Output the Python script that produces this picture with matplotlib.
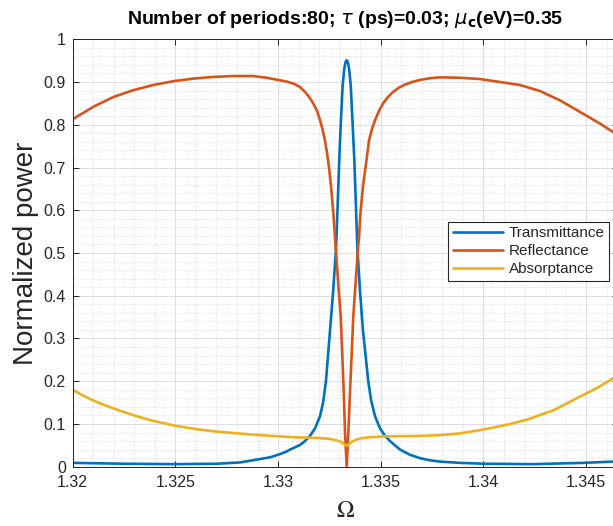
import matplotlib.pyplot as plt
from matplotlib.ticker import MultipleLocator, FixedLocator, FixedFormatter

# normalized frequency samples and spectra of the periodic stack
omega_t = [1.32000, 1.32250, 1.32498, 1.32700, 1.32815, 1.32912, 1.32961, 1.33000,
           1.33034, 1.33058, 1.33107, 1.33131, 1.33155, 1.33180, 1.33204, 1.33219,
           1.33233, 1.33243, 1.33253, 1.33268, 1.33282, 1.33290, 1.33298, 1.33304,
           1.33310, 1.33314, 1.33322, 1.33328, 1.33334, 1.33340, 1.33346, 1.33354,
           1.33358, 1.33364, 1.33371, 1.33379, 1.33386, 1.33399, 1.33413, 1.33426,
           1.33439, 1.33453, 1.33472, 1.33496, 1.33521, 1.33545, 1.33594, 1.33642,
           1.33691, 1.33740, 1.33788, 1.33886, 1.34000, 1.34241, 1.34485, 1.34631]
transmittance = [0.009, 0.007, 0.006, 0.007, 0.010, 0.018, 0.022, 0.028,
                 0.034, 0.040, 0.051, 0.060, 0.072, 0.090, 0.118, 0.150,
                 0.200, 0.260, 0.320, 0.410, 0.510, 0.610, 0.720, 0.790,
                 0.850, 0.890, 0.930, 0.946, 0.951, 0.946, 0.930, 0.890,
                 0.850, 0.790, 0.720, 0.610, 0.510, 0.410, 0.320, 0.260,
                 0.200, 0.155, 0.118, 0.090, 0.072, 0.060, 0.040, 0.028,
                 0.020, 0.015, 0.012, 0.009, 0.007, 0.006, 0.009, 0.012]

omega_r = [1.32000, 1.32100, 1.32198, 1.32295, 1.32392, 1.32490, 1.32587, 1.32685,
           1.32782, 1.32879, 1.32945, 1.33009, 1.33043, 1.33082, 1.33107, 1.33131,
           1.33151, 1.33171, 1.33190, 1.33204, 1.33216, 1.33228, 1.33238, 1.33248,
           1.33258, 1.33269, 1.33277, 1.33284, 1.33294, 1.33305, 1.33312, 1.33318,
           1.33326, 1.33334, 1.33342, 1.33352, 1.33359, 1.33366, 1.33376, 1.33386,
           1.33394, 1.33401, 1.33413, 1.33427, 1.33443, 1.33457, 1.33472, 1.33491,
           1.33511, 1.33535, 1.33560, 1.33589, 1.33618, 1.33652, 1.33691, 1.33740,
           1.33788, 1.33886, 1.33983, 1.34081, 1.34178, 1.34275, 1.34373, 1.34470,
           1.34567, 1.34631]
reflectance = [0.813, 0.842, 0.865, 0.881, 0.893, 0.902, 0.908, 0.912,
               0.914, 0.914, 0.910, 0.904, 0.901, 0.895, 0.888, 0.877,
               0.865, 0.850, 0.832, 0.811, 0.790, 0.764, 0.735, 0.700,
               0.655, 0.593, 0.538, 0.490, 0.420, 0.351, 0.270, 0.196,
               0.079, 0.000, 0.079, 0.196, 0.270, 0.351, 0.420, 0.490,
               0.538, 0.593, 0.655, 0.705, 0.764, 0.790, 0.811, 0.832,
               0.850, 0.865, 0.877, 0.887, 0.894, 0.900, 0.905, 0.909,
               0.911, 0.910, 0.907, 0.900, 0.893, 0.879, 0.857, 0.830,
               0.803, 0.783]

omega_a = [1.32000, 1.32052, 1.32100, 1.32150, 1.32230, 1.32300, 1.32376, 1.32498,
           1.32600, 1.32683, 1.32878, 1.33073, 1.33204, 1.33253, 1.33282, 1.33302,
           1.33316, 1.33328, 1.33334, 1.33340, 1.33353, 1.33365, 1.33384, 1.33409,
           1.33448, 1.33521, 1.33691, 1.33788, 1.33886, 1.34000, 1.34113, 1.34211,
           1.34340, 1.34470, 1.34567, 1.34631]
absorptance = [0.180, 0.166, 0.155, 0.145, 0.131, 0.120, 0.109, 0.096,
               0.088, 0.083, 0.075, 0.069, 0.067, 0.065, 0.062, 0.059,
               0.055, 0.050, 0.049, 0.051, 0.056, 0.060, 0.064, 0.067,
               0.069, 0.071, 0.072, 0.074, 0.078, 0.087, 0.098, 0.110,
               0.132, 0.164, 0.188, 0.207]

xticks = [1.32, 1.325, 1.33, 1.335, 1.34, 1.345]
xtick_labels = ["1.32", "1.325", "1.33", "1.335", "1.34", "1.345"]
yticks = [0, 0.1, 0.2, 0.3, 0.4, 0.5, 0.6, 0.7, 0.8, 0.9, 1]
ytick_labels = ["0", "0.1", "0.2", "0.3", "0.4", "0.5", "0.6", "0.7", "0.8", "0.9", "1"]

plt.rcParams["font.family"] = ["Liberation Sans", "DejaVu Sans"]
axis_color = "#262626"

fig = plt.figure(figsize=(6.13, 5.26), dpi=100)
ax = fig.add_axes([0.1186, 0.1127, 0.8896, 0.8126])

line_kw = dict(lw=1.9, solid_joinstyle="round", solid_capstyle="round")
ax.plot(omega_t, transmittance, color="#0072BD", label="Transmittance", **line_kw)
ax.plot(omega_r, reflectance, color="#D95319", label="Reflectance", **line_kw)
ax.plot(omega_a, absorptance, color="#EDB120", label="Absorptance", **line_kw)

ax.set_xlim(1.32, 1.346551)
ax.set_ylim(0, 1)
ax.xaxis.set_major_locator(FixedLocator(xticks))
ax.xaxis.set_major_formatter(FixedFormatter(xtick_labels))
ax.yaxis.set_major_locator(FixedLocator(yticks))
ax.yaxis.set_major_formatter(FixedFormatter(ytick_labels))
ax.xaxis.set_minor_locator(MultipleLocator(0.001))
ax.yaxis.set_minor_locator(MultipleLocator(0.02))

ax.grid(which="major", color="#dedede", lw=0.7, ls="-")
ax.grid(which="minor", color="#d6d6d6", lw=0.6, ls=":")
ax.set_axisbelow(True)

ax.tick_params(which="major", direction="in", top=True, right=True, length=4.5,
               width=0.7, color=axis_color, labelcolor=axis_color, labelsize=11.5)
ax.tick_params(axis="x", pad=6)
ax.tick_params(axis="y", pad=5)
ax.tick_params(which="minor", length=0)
for sp in ax.spines.values():
    sp.set_color(axis_color)
    sp.set_linewidth(0.7)

ax.set_xlabel(r"$\Omega$", fontsize=17, color=axis_color, labelpad=7,
              math_fontfamily="stix")
ax.set_ylabel("Normalized power", fontsize=20, color=axis_color, labelpad=3)
ax.set_title(r"Number of periods:80; $\tau$ (ps)=0.03; $\mu_{\mathbf{c}}$(eV)=0.35",
             fontsize=14, fontweight="bold", color="black", pad=11)

leg = ax.legend(loc="upper left", bbox_to_anchor=(0.7313, 0.5785),
                bbox_transform=fig.transFigure, borderaxespad=0, fontsize=11,
                handlelength=3.3, handletextpad=0.35, labelspacing=0.25,
                borderpad=0.3, fancybox=False, framealpha=1)
leg.get_frame().set_edgecolor(axis_color)
leg.get_frame().set_linewidth(0.8)
for t in leg.get_texts():
    t.set_color(axis_color)

fig.savefig("out.png", dpi=100)
